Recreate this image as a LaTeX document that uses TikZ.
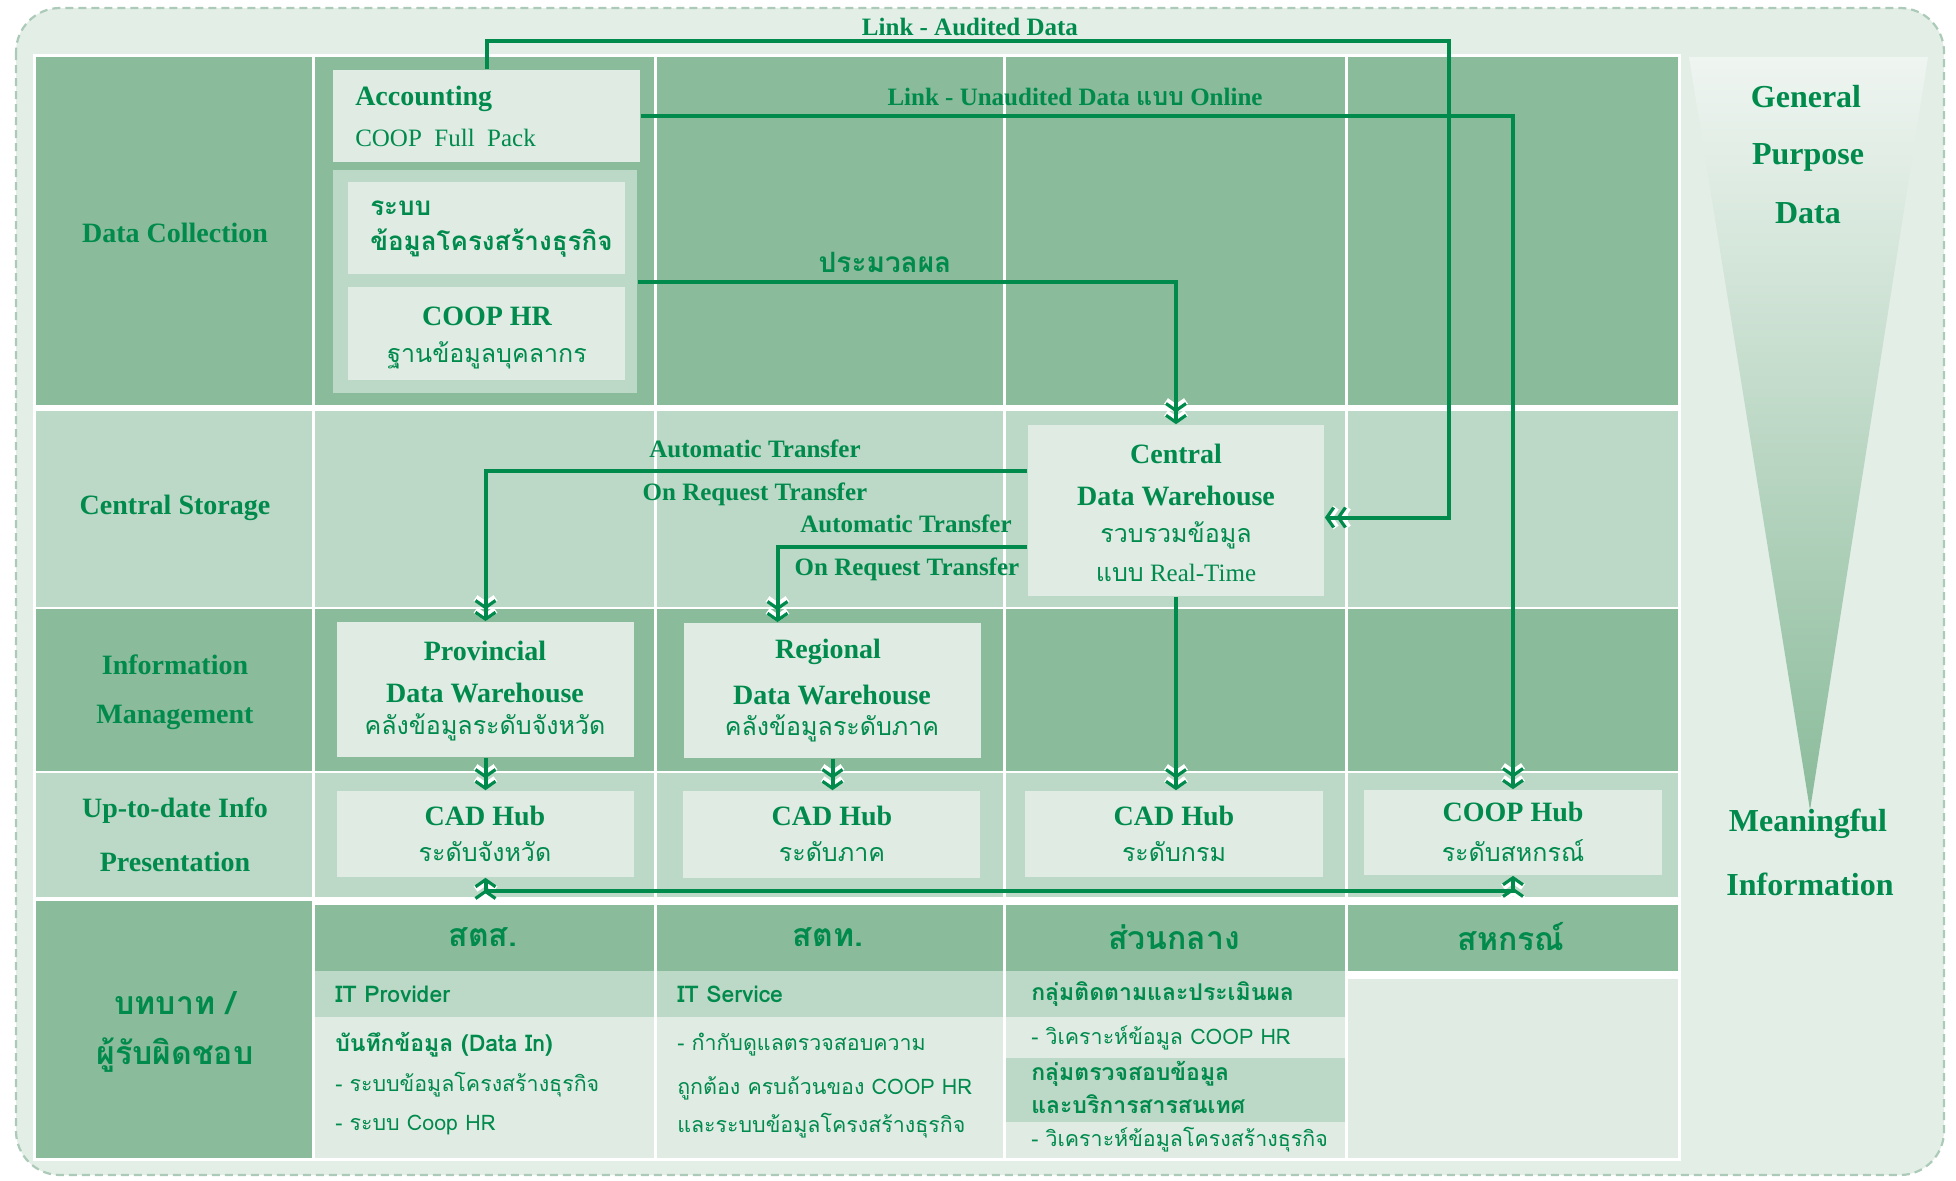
\documentclass[tikz,border=0pt]{standalone}
\usepackage{fontspec}
\setmainfont{Liberation Serif}
\newfontfamily\thaifont[Script=Thai]{Loma}
\usetikzlibrary{arrows.meta,fit}

\definecolor{dgreen}{RGB}{0,138,76}
\definecolor{midgreen}{RGB}{138,187,154}
\definecolor{softgreen}{RGB}{188,216,198}
\definecolor{palegreen}{RGB}{223,235,227}
\definecolor{bggreen}{RGB}{227,238,231}
\definecolor{edgegreen}{RGB}{172,202,184}

\tikzset{every picture/.style={line width=0.75pt}}
\tikzset{
  chev/.tip={Straight Barb[length=3.5pt,width=10pt,line width=1.6pt,sep=0.6pt] Straight Barb[length=3.5pt,width=10pt,line width=1.6pt]},
  chevw/.tip={Straight Barb[length=3.5pt,width=10pt,line width=3.4pt,sep=-1.2pt] Straight Barb[length=3.5pt,width=10pt,line width=3.4pt]},
  hd/.style={text=dgreen, inner sep=0.75pt, font=\bfseries\fontsize{14}{16}\selectfont},
  lk/.style={text=dgreen, inner sep=0.75pt, font=\bfseries\fontsize{12.5}{14}\selectfont},
  tx/.style={text=dgreen, inner sep=0.75pt, font=\fontsize{12.5}{15}\selectfont},
  th/.style={text=dgreen, inner sep=0.75pt, font=\thaifont\fontsize{12.5}{15}\selectfont},
  thb/.style={text=dgreen, inner sep=0.75pt, font=\thaifont\bfseries\fontsize{13}{16}\selectfont},
  big/.style={text=dgreen, inner sep=0.75pt, font=\bfseries\fontsize{16}{19}\selectfont},
  rl/.style={text=dgreen, inner sep=0.75pt, font=\thaifont\bfseries\fontsize{16}{19}\selectfont},
  sm/.style={text=dgreen, inner sep=0.75pt, anchor=west, font=\thaifont\fontsize{10.7}{13}\selectfont},
  smb/.style={text=dgreen, inner sep=0.75pt, anchor=west, font=\thaifont\bfseries\fontsize{11.5}{14}\selectfont},
  box/.style={fill=palegreen, inner sep=0pt},
  flow/.style={draw=dgreen, line width=2pt, -chev, preaction={draw=white, -chevw}},
  flowtwo/.style={draw=dgreen, line width=2pt, chev-chev, preaction={draw=white, chevw-chevw}}
}

\begin{document}
\begin{tikzpicture}[x=0.5pt,y=0.5pt,yscale=-1,xscale=1]
\useasboundingbox (0,0) rectangle (1956,1180);

%Shape: Rounded Rectangle [outer frame]
\draw [edgegreen, line width=1.1pt, dash pattern=on 4pt off 2.5pt, fill=bggreen, rounded corners=22pt] (16,8) rectangle (1944,1175);
%Shape: Triangle [funnel]
\shade [top color=palegreen!50!white, middle color=softgreen, bottom color=midgreen] (1689,57) -- (1928,57) -- (1810,810) -- cycle;

%Shape: Table
\fill [white] (33,54) rectangle (1681,1161);
\foreach \xa/\xb in {36/312,315/654,657/1003,1006/1345,1348/1678}{
  \fill [midgreen] (\xa,57) rectangle (\xb,405);
  \fill [softgreen] (\xa,411) rectangle (\xb,607);
  \fill [midgreen] (\xa,609) rectangle (\xb,771);
  \fill [softgreen] (\xa,773) rectangle (\xb,897);
}
\fill [midgreen] (36,901) rectangle (312,1158);
\foreach \xa/\xb in {315/654,657/1003,1006/1345}{
  \fill [midgreen] (\xa,905) rectangle (\xb,971);
  \fill [softgreen] (\xa,971) rectangle (\xb,1017);
  \fill [palegreen] (\xa,1017) rectangle (\xb,1158);
}
\fill [softgreen] (1006,1058) rectangle (1345,1122);
\fill [midgreen] (1348,905) rectangle (1678,971);
\fill [palegreen] (1348,979) rectangle (1678,1158);

%Shape: Boxes
\node [box, fit={(333,70) (640,162)}] (acc) {};
\node [fit={(333,170) (637,393)}, inner sep=0pt, fill=softgreen] (grp) {};
\node [box, fit={(348,182) (625,274)}] (biz) {};
\node [box, fit={(348,287) (625,380)}] (hr) {};
\node [box, fit={(1028,425) (1324,596)}] (cdw) {};
\node [box, fit={(337,622) (634,757)}] (pdw) {};
\node [box, fit={(684,623) (981,758)}] (rdw) {};
\node [box, fit={(337,791) (634,877)}] (cad1) {};
\node [box, fit={(683,791) (980,878)}] (cad2) {};
\node [box, fit={(1025,791) (1323,877)}] (cad3) {};
\node [box, fit={(1364,790) (1662,875)}] (hub) {};

%Connectors
\coordinate (audR) at (1449,41);
\draw [flow] (acc.north) |- (audR) |- ([yshift=3.5pt]cdw.east);
\draw [flow] (acc.east) -| (hub.north);
\draw [flow] (grp.east) -| (cdw.north);
\draw [flow] ([yshift=-20pt]cdw.west) -| (pdw.north);
\draw [flow] ([yshift=18pt]cdw.west) -| ([xshift=-27.5pt]rdw.north);
\draw [flow] (pdw.south) -- (cad1.north);
\draw [flow] (rdw.south) -- (rdw.south |- cad2.north);
\draw [flow] (cdw.south) -- (cdw.south |- cad3.north);
\draw [flowtwo] (cad1.south) -- ++(0,13) -| (hub.south);

% Text Node
\node [lk] (tAud) at (970,27) {Link - Audited Data};
\node [lk] (tUna) at (1075,97) {Link - Unaudited Data {\thaifont แบบ} Online};
\node [thb, font=\thaifont\bfseries\fontsize{14}{16}\selectfont] (tProc) at (885,262) {ประมวลผล};
\node [lk] (tAuto1) at (755,449) {Automatic Transfer};
\node [lk] (tReq1) at (755,494) {On Request Transfer};
\node [lk] (tAuto2) at (906,524) {Automatic Transfer};
\node [lk] (tReq2) at (907,569) {On Request Transfer};
% Text Node
\node [big] (tGen) at (1806,97) {General};
\node [big] (tPur) at (1808,157) {Purpose};
\node [big] (tDat) at (1808,213) {Data};
\node [big] (tMea) at (1808,824) {Meaningful};
\node [big] (tInf) at (1810,884) {Information};
% Text Node
\node [hd] (rDC) at (175,233) {Data Collection};
\node [hd] (rCS) at (175,508) {Central Storage};
\node [hd] (rIM1) at (175,665) {Information};
\node [hd] (rIM2) at (175,717) {Management};
\node [hd] (rUp1) at (175,811) {Up-to-date Info};
\node [hd] (rUp2) at (175,862) {Presentation};
\node [rl] (rRo1) at (175,1003) {บทบาท /};
\node [rl] (rRo2) at (175,1055) {ผู้รับผิดชอบ};
% Text Node
\node [hd, anchor=west] (tAcc) at (353,99) {Accounting};
\node [tx, anchor=west] (tFull) at (353,138) {COOP\ \ Full\ \ Pack};
\node [thb, anchor=west] (tBiz1) at (368,208) {ระบบ};
\node [thb, anchor=west] (tBiz2) at (368,243) {ข้อมูลโครงสร้างธุรกิจ};
\node [hd] (tHR1) at (487,316) {COOP HR};
\node [th] (tHR2) at (487,355) {ฐานข้อมูลบุคลากร};
% Text Node
\node [hd] (tC1) at (1176,454) {Central};
\node [hd] (tC2) at (1176,496) {Data Warehouse};
\node [th] (tC3) at (1176,535) {รวบรวมข้อมูล};
\node [tx] (tC4) at (1176,573) {{\thaifont แบบ} Real-Time};
\node [hd] (tP1) at (485,651) {Provincial};
\node [hd] (tP2) at (485,693) {Data Warehouse};
\node [th] (tP3) at (485,727) {คลังข้อมูลระดับจังหวัด};
\node [hd] (tR1) at (828,652) {Regional};
\node [hd] (tR2) at (832,695) {Data Warehouse};
\node [th] (tR3) at (832,728) {คลังข้อมูลระดับภาค};
% Text Node
\node [hd] (tH1a) at (485,816) {CAD Hub};
\node [th] (tH1b) at (485,852) {ระดับจังหวัด};
\node [hd] (tH2a) at (832,816) {CAD Hub};
\node [th] (tH2b) at (832,852) {ระดับภาค};
\node [hd] (tH3a) at (1174,816) {CAD Hub};
\node [th] (tH3b) at (1174,852) {ระดับกรม};
\node [hd] (tH4a) at (1513,812) {COOP Hub};
\node [th] (tH4b) at (1513,851) {ระดับสหกรณ์};
% Text Node
\node [rl] (kA) at (483,937) {สตส.};
\node [rl] (kB) at (828,937) {สตท.};
\node [rl] (kC) at (1174,937) {ส่วนกลาง};
\node [rl] (kD) at (1511,937) {สหกรณ์};
\node [smb] (kA1) at (333,994) {IT Provider};
\node [smb] (kB1) at (675,994) {IT Service};
\node [smb] (kC1) at (1029,994) {กลุ่มติดตามและประเมินผล};
\node [smb] (kA2) at (333,1045) {บันทึกข้อมูล (Data In)};
\node [sm] (kA3) at (333,1085) {- ระบบข้อมูลโครงสร้างธุรกิจ};
\node [sm] (kA4) at (333,1125) {- ระบบ Coop HR};
\node [sm] (kB2) at (675,1045) {- กำกับดูแลตรวจสอบความ};
\node [sm] (kB3) at (675,1088) {ถูกต้อง ครบถ้วนของ COOP HR};
\node [sm] (kB4) at (675,1126) {และระบบข้อมูลโครงสร้างธุรกิจ};
\node [sm] (kC2) at (1029,1038) {- วิเคราะห์ข้อมูล COOP HR};
\node [smb] (kC3) at (1029,1074) {กลุ่มตรวจสอบข้อมูล};
\node [smb] (kC4) at (1029,1104) {และบริการสารสนเทศ};
\node [sm] (kC5) at (1029,1140) {- วิเคราะห์ข้อมูลโครงสร้างธุรกิจ};

\end{tikzpicture}
\end{document}
